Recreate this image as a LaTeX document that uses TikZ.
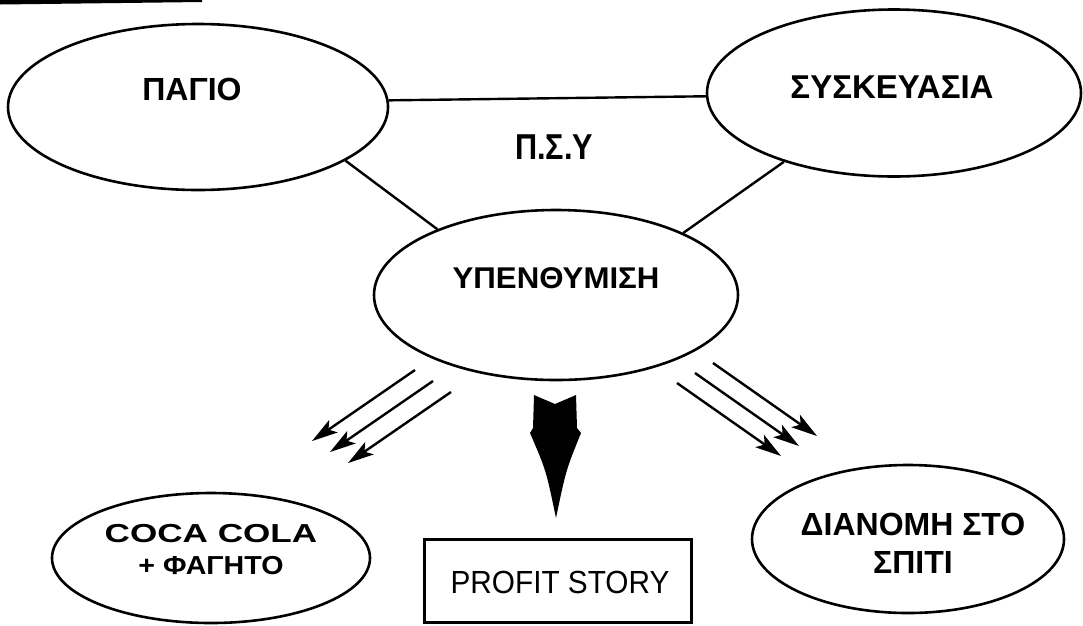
\documentclass[tikz,border=0pt]{standalone}
\usepackage{fontspec}
\setmainfont{Liberation Sans}
\newfontfamily\narrowsans[FakeStretch=0.93]{Liberation Sans}
\usetikzlibrary{arrows.meta,calc,shapes.geometric}
\newcommand\fsz[2]{\fontsize{#1}{#2}\selectfont}
\newcommand\stretched[2]{{\addfontfeatures{FakeStretch=#1}#2}}
\tikzset{
  oval/.style={draw, ellipse, line width=2.6pt, inner sep=0pt},
  link/.style={line width=2.4pt},
  hint/.style={line width=2.4pt, -{Stealth[length=26pt,width=15pt,inset=6pt]}},
  lbl/.style={inner sep=0pt, align=center, font=\bfseries\fsz{32}{32}},
}

\begin{document}
\begin{tikzpicture}[x=1pt,y=-1pt]
  \useasboundingbox (0,0) rectangle (1083,625);
  \fill (0,0) -- (202,0) -- (202,2) -- (0,4.5) -- cycle;

  \node[oval,minimum width=380pt,minimum height=166pt] (pagio) at (198,107) {};
  \node[oval,minimum width=374pt,minimum height=167pt] (syskeuasia) at (894,93) {};
  \node[oval,minimum width=364pt,minimum height=170pt] (ypenthymisi) at (556,295) {};
  \node[oval,minimum width=318pt,minimum height=130pt] (cocacola) at (211,558) {};
  \node[oval,minimum width=312pt,minimum height=148pt] (dianomi) at (908,539) {};
  \node[draw,line width=2.4pt,minimum width=267pt,minimum height=83pt] (profit) at (558,581) {};

  \node[lbl] (pagio-t) at (192,89) {ΠΑΓΙΟ};
  \node[lbl,font=\bfseries\fsz{33}{33}] (syskeuasia-t) at (892,87) {ΣΥΣΚΕΥΑΣΙΑ};
  \node[lbl,font=\bfseries\fsz{36}{36}\addfontfeatures{FakeStretch=0.85}] (psy) at (554,147) {Π.Σ.Υ};
  \node[lbl,font=\bfseries\fsz{30}{30}\addfontfeatures{FakeStretch=1.04}] (ypenthymisi-t) at (556,278) {ΥΠΕΝΘΥΜΙΣΗ};
  \node[lbl,font=\bfseries\fsz{26}{32}] (cocacola-t) at (211,550)
    {\stretched{1.35}{COCA COLA}\\\stretched{1.1}{+ ΦΑΓΗΤΟ}};
  \node[lbl,font=\bfseries\fsz{32}{38}] (dianomi-t) at (913,543) {ΔΙΑΝΟΜΗ ΣΤΟ\\ΣΠΙΤΙ};
  \node[lbl,font=\narrowsans\fsz{32}{32}] (profit-t) at (560,582) {PROFIT STORY};

  \draw[link] (pagio.2) -- (syskeuasia.181);
  \draw[link] (pagio.-20) -- (ypenthymisi.151);
  \draw[link] (syskeuasia.212) -- (ypenthymisi.26);

  \foreach \i in {0,1,2} {
    \coordinate (la\i) at ($(415,370)+\i*(18,11)$);
    \coordinate (lb\i) at ($(la\i)+(-103,71)$);
    \draw[hint] (la\i) -- (lb\i);
    \coordinate (ra\i) at ($(713,363)+\i*(-18,10)$);
    \coordinate (rb\i) at ($(ra\i)+(104,73)$);
    \draw[hint] (ra\i) -- (rb\i);
  }

  \fill (534,395) -- (555,404) -- (576,395) -- (577,428) -- (581,433)
    .. controls (566,470) .. (556,518) .. controls (546,470) .. (530,433)
    -- (533,428) -- cycle;
\end{tikzpicture}
\end{document}
